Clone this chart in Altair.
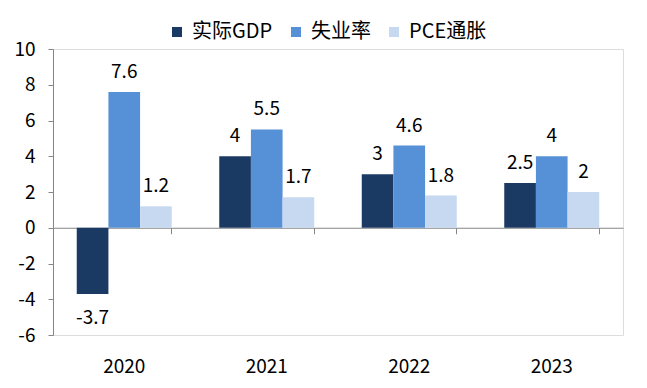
import altair as alt
import pandas as pd

years = ["2020", "2021", "2022", "2023"]
series = ["实际GDP", "失业率", "PCE通胀"]
gdp = [-3.7, 4, 3, 2.5]
unemp = [7.6, 5.5, 4.6, 4]
pce = [1.2, 1.7, 1.8, 2]
colors = ["#1b3a63", "#5690d6", "#c6d9f1"]
y_ticks = [-6, -4, -2, 0, 2, 4, 6, 8, 10]

rows = []
for s, vals in zip(series, [gdp, unemp, pce]):
    for yr, v in zip(years, vals):
        rows.append({"year": yr, "series": s, "value": v, "label": f"{v:g}"})
df = pd.DataFrame(rows)

FONT = "Noto Sans CJK SC"
W, H = 570, 286
ymin, ymax = -6, 10
GRAY = "#868686"

xscale = alt.Scale(paddingInner=1 / 3, paddingOuter=1 / 6)
yscale = alt.Scale(domain=[ymin, ymax], nice=False, zero=False)

y_axis = alt.Axis(
    title=None, orient="left", values=y_ticks, grid=False, tickSize=5,
    labelPadding=13, domainColor=GRAY, tickColor=GRAY, labelFontSize=19,
    labelColor="#000", labelFont=FONT, labelExpr="datum.value + ''",
)

base = alt.Chart(df)

bars = base.mark_bar().encode(
    x=alt.X(
        "year:N",
        scale=xscale,
        axis=alt.Axis(
            title=None, orient="bottom", domain=False, ticks=False, tickSize=0,
            labelPadding=22, labelAngle=0, labelFontSize=19, labelColor="#000",
            labelFont=FONT,
        ),
    ),
    xOffset=alt.XOffset("series:N", sort=series),
    y=alt.Y("value:Q", scale=yscale, axis=y_axis),
    color=alt.Color(
        "series:N",
        sort=series,
        scale=alt.Scale(domain=series, range=colors),
        legend=alt.Legend(
            title=None, orient="none", legendX=114, legendY=-27,
            direction="horizontal", symbolType="square", symbolSize=100,
            symbolStrokeWidth=0, labelFontSize=20, labelOffset=5,
            columnPadding=13, labelFont=FONT, labelColor="#000",
        ),
    ),
)

zero_axis = alt.Axis(
    title=None, orient="bottom", offset=-H * (0 - ymin) / (ymax - ymin),
    labels=False, domain=True, domainColor=GRAY, ticks=True, tickColor=GRAY,
    tickSize=6, bandPosition=1, grid=False,
)

pos_text = base.transform_filter("datum.value >= 0").mark_text(
    dy=-14, baseline="alphabetic", fontSize=19, font=FONT, color="#000"
).encode(
    x=alt.X("year:N", scale=xscale, axis=zero_axis),
    xOffset=alt.XOffset("series:N", sort=series),
    y=alt.Y("value:Q", scale=yscale, axis=y_axis),
    text="label:N",
)

neg_text = base.transform_filter("datum.value < 0").mark_text(
    dy=30, baseline="alphabetic", fontSize=19, font=FONT, color="#000"
).encode(
    x=alt.X("year:N", scale=xscale, axis=None),
    xOffset=alt.XOffset("series:N", sort=series),
    y=alt.Y("value:Q", scale=yscale, axis=y_axis),
    text="label:N",
)

chart = (
    alt.layer(bars, pos_text, neg_text)
    .resolve_axis(x="independent", y="shared")
    .properties(
        width=W, height=H,
        padding={"left": 45, "top": 41, "right": 16, "bottom": 45},
        autosize=alt.AutoSizeParams(type="none"),
    )
    .configure_view(stroke=None)
    .configure(font=FONT)
)

chart.save("out.html", embed_options={"renderer": "svg", "actions": False})
